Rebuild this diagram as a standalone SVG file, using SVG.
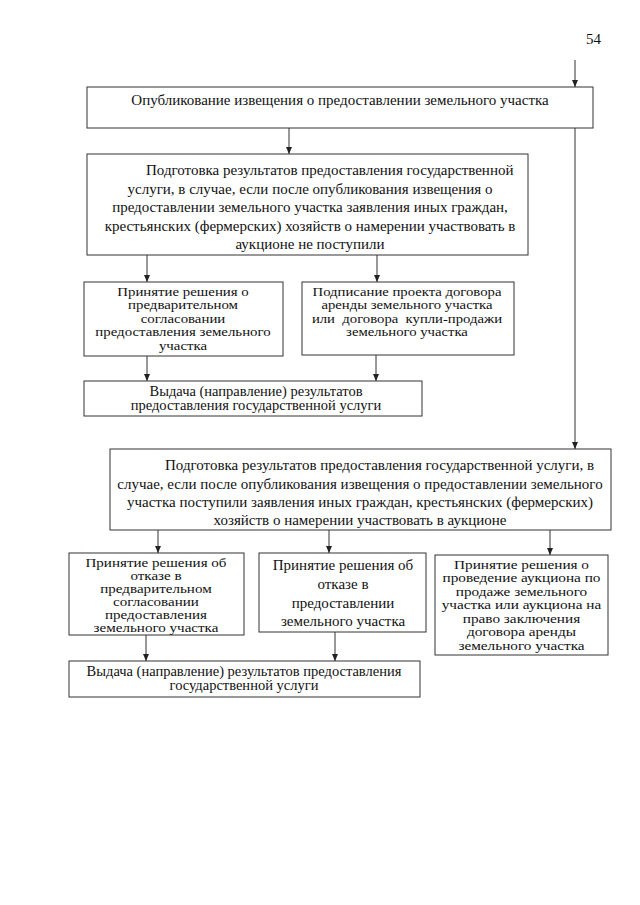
<svg xmlns="http://www.w3.org/2000/svg" width="640" height="905" viewBox="0 0 640 905">
<style>
.bg{fill:#fff}
.box{fill:#fff;stroke:#333;stroke-width:1}
.t{font-family:"Liberation Serif","Times New Roman",serif;font-size:15px;fill:#111}
.m{font-size:14.5px}
.s{font-size:13.5px}
.xs{font-size:13px}
.l{font-size:15.5px}
.c{text-anchor:middle}
.ln{fill:none;stroke:#333;stroke-width:1}
</style>
<defs>
<marker id="ah" markerUnits="userSpaceOnUse" markerWidth="8" markerHeight="8" refX="7" refY="3" orient="auto">
<path d="M0,0 L7,3 L0,6 z" fill="#222"/>
</marker>
</defs>
<rect class="bg" x="0" y="0" width="640" height="905"/>
<text class="t" x="586" y="44">54</text>
<g id="connectors">
<path class="ln" d="M575,60 V87" marker-end="url(#ah)"/>
<path class="ln" d="M575,128 V449" marker-end="url(#ah)"/>
<path class="ln" d="M289,128 V154" marker-end="url(#ah)"/>
<path class="ln" d="M147,255 V282" marker-end="url(#ah)"/>
<path class="ln" d="M377,255 V282" marker-end="url(#ah)"/>
<path class="ln" d="M147,356 V381" marker-end="url(#ah)"/>
<path class="ln" d="M376,355 V381" marker-end="url(#ah)"/>
<path class="ln" d="M158,530 V553" marker-end="url(#ah)"/>
<path class="ln" d="M329,530 V553" marker-end="url(#ah)"/>
<path class="ln" d="M550,530 V555" marker-end="url(#ah)"/>
<path class="ln" d="M146,635 V661" marker-end="url(#ah)"/>
<path class="ln" d="M335,632 V661" marker-end="url(#ah)"/>
</g>
<g id="n1">
<rect class="box" x="87" y="87" width="506" height="41"/>
<text class="t c" x="340" y="105">Опубликование извещения о предоставлении земельного участка</text>
</g>
<g id="n2">
<rect class="box" x="87" y="154" width="441" height="101"/>
<text class="t" x="146" y="175">Подготовка результатов предоставления государственной</text>
<text class="t c" x="310" y="193.5">услуги, в случае, если после опубликования извещения о</text>
<text class="t c" x="310" y="212">предоставлении земельного участка заявления иных граждан,</text>
<text class="t c" x="310" y="230.5">крестьянских (фермерских) хозяйств о намерении участвовать в</text>
<text class="t c" x="310" y="249">аукционе не поступили</text>
</g>
<g id="n3">
<rect class="box" x="84" y="282" width="199" height="74"/>
<g transform="translate(183 0) scale(1.1 1) translate(-183 0)">
<text class="t s c" x="183" y="296">Принятие решения о</text>
<text class="t s c" x="183" y="309.5">предварительном</text>
<text class="t s c" x="183" y="323">согласовании</text>
<text class="t s c" x="183" y="336.5">предоставления земельного</text>
<text class="t s c" x="183" y="350">участка</text>
</g>
</g>
<g id="n4">
<rect class="box" x="302" y="282" width="212" height="73"/>
<g transform="translate(407 0) scale(1.09 1) translate(-407 0)">
<text class="t s c" x="407" y="296">Подписание проекта договора</text>
<text class="t s c" x="407" y="309.5">аренды земельного участка</text>
<text class="t s c" x="407" y="323" xml:space="preserve">или  договора  купли-продажи</text>
<text class="t s c" x="407" y="336.5">земельного участка</text>
</g>
</g>
<g id="n5">
<rect class="box" x="84" y="381" width="338" height="35"/>
<text class="t m c" x="256" y="395.5">Выдача (направление) результатов</text>
<text class="t m c" x="256" y="410">предоставления государственной услуги</text>
</g>
<g id="n6">
<rect class="box" x="110" y="449" width="501" height="81"/>
<text class="t" x="165" y="470">Подготовка результатов предоставления государственной услуги, в</text>
<text class="t c" x="360" y="488.5">случае, если после опубликования извещения о предоставлении земельного</text>
<text class="t c" x="360" y="507">участка поступили заявления иных граждан, крестьянских (фермерских)</text>
<text class="t c" x="360" y="525">хозяйств о намерении участвовать в аукционе</text>
</g>
<g id="n7">
<rect class="box" x="69" y="553" width="175" height="82"/>
<g transform="translate(156 0) scale(1.16 1) translate(-156 0)">
<text class="t xs c" x="156" y="567">Принятие решения об</text>
<text class="t xs c" x="156" y="580">отказе в</text>
<text class="t xs c" x="156" y="593">предварительном</text>
<text class="t xs c" x="156" y="606">согласовании</text>
<text class="t xs c" x="156" y="619">предоставления</text>
<text class="t xs c" x="156" y="632">земельного участка</text>
</g>
</g>
<g id="n8">
<rect class="box" x="259" y="553" width="167" height="79"/>
<text class="t c" x="343" y="570">Принятие решения об</text>
<text class="t c" x="343" y="589">отказе в</text>
<text class="t c" x="343" y="607.5">предоставлении</text>
<text class="t c" x="343" y="626">земельного участка</text>
</g>
<g id="n9">
<rect class="box" x="435" y="555" width="173" height="100"/>
<g transform="translate(521.5 0) scale(1.13 1) translate(-521.5 0)">
<text class="t s c" x="521.5" y="569">Принятие решения о</text>
<text class="t s c" x="521.5" y="582.5">проведение аукциона по</text>
<text class="t s c" x="521.5" y="596">продаже земельного</text>
<text class="t s c" x="521.5" y="609.5">участка или аукциона на</text>
<text class="t s c" x="521.5" y="623">право заключения</text>
<text class="t s c" x="521.5" y="636.5">договора аренды</text>
<text class="t s c" x="521.5" y="650">земельного участка</text>
</g>
</g>
<g id="n10">
<rect class="box" x="69" y="661" width="351" height="36"/>
<text class="t m c" x="244" y="675.5">Выдача (направление) результатов предоставления</text>
<text class="t m c" x="244" y="690">государственной услуги</text>
</g>
</svg>
